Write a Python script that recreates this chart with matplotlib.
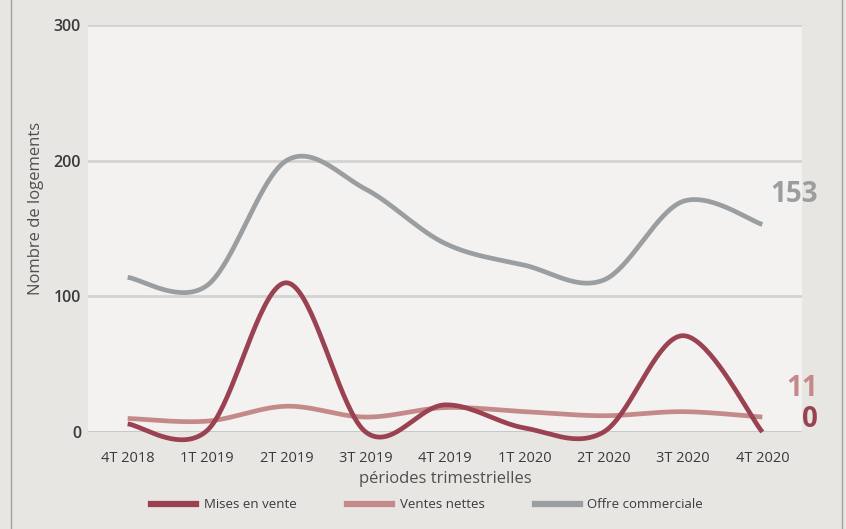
import matplotlib.pyplot as plt
from matplotlib.lines import Line2D
import numpy as np

# Data
periodes = ['4T 2018', '1T 2019', '2T 2019', '3T 2019', '4T 2019',
            '1T 2020', '2T 2020', '3T 2020', '4T 2020']
mises_en_vente = [6, 1, 110, 0, 20, 3, 0, 71, 0]
ventes_nettes = [10, 8, 19, 11, 18, 15, 12, 15, 11]
offre_commerciale = [114, 108, 200, 179, 139, 123, 112, 170, 153]

series = [
    ('Mises en vente', mises_en_vente, '#9b4252'),
    ('Ventes nettes', ventes_nettes, '#c48a8a'),
    ('Offre commerciale', offre_commerciale, '#9b9ea0'),
]


def smooth(y, n=40):
    # Catmull-Rom curve through each point (same look as a smoothed line)
    y = np.asarray(y, dtype=float)
    x = np.arange(len(y), dtype=float)
    px = np.concatenate([[x[0]], x, [x[-1]]])
    py = np.concatenate([[y[0]], y, [y[-1]]])
    xs, ys = [], []
    t = np.linspace(0, 1, n)
    for i in range(1, len(px) - 2):
        for p, out in ((px, xs), (py, ys)):
            p0, p1, p2, p3 = p[i - 1], p[i], p[i + 1], p[i + 2]
            m1 = (p2 - p0) / 2
            m2 = (p3 - p1) / 2
            h00 = 2 * t**3 - 3 * t**2 + 1
            h10 = t**3 - 2 * t**2 + t
            h01 = -2 * t**3 + 3 * t**2
            h11 = t**3 - t**2
            out.extend(h00 * p1 + h10 * m1 + h01 * p2 + h11 * m2)
    return np.array(xs), np.array(ys)


plt.rcParams['font.family'] = ['Open Sans', 'DejaVu Sans']

fig = plt.figure(figsize=(8.46, 5.29), dpi=100, facecolor='#e7e6e3')
ax = fig.add_axes([88 / 846, 1 - 432 / 529, 714 / 846, 407 / 529])
ax.set_facecolor('#f3f2f0')

# frame borders of the panel
fig.add_artist(Line2D([10.5 / 846, 10.5 / 846], [0, 1], color='#a0a0a0', lw=1))
fig.add_artist(Line2D([842 / 846, 842 / 846], [0, 1], color='#a0a0a0', lw=1))

ax.set_xlim(-0.5, len(periodes) - 0.5)
ax.set_ylim(0, 300)
ax.set_yticks([0, 100, 200, 300])
ax.yaxis.grid(True, color='#d3d4d2', lw=2)
ax.set_axisbelow(True)
ax.axhline(0, color='#c6c8c8', lw=2, zorder=1)
for s in ax.spines.values():
    s.set_visible(False)

ax.set_xticks(range(len(periodes)))
ax.set_xticklabels(periodes)
ax.tick_params(axis='both', length=0, colors='#3a3a3a')
ax.tick_params(axis='y', labelsize=11.5, pad=5)
ax.tick_params(axis='x', labelsize=10.5, pad=14)
for lbl in ax.get_yticklabels():
    lbl.set_fontweight('semibold')

for name, vals, col in series[::-1]:
    xs, ys = smooth(vals)
    ax.plot(xs, ys, color=col, lw=3.4, solid_capstyle='butt', clip_on=False, label=name)

ax.set_ylabel('Nombre de logements', fontsize=12, color='#505050')
ax.yaxis.set_label_coords(-44 / 714, 0.55)
ax.set_xlabel('périodes trimestrielles', fontsize=12, color='#505050', labelpad=3)

# last values next to the lines
last_x = len(periodes) - 1
ax.text(last_x + 0.7, 175, f'{offre_commerciale[-1]}', color='#9b9ea0',
        fontsize=20, fontweight='bold', va='center', ha='right')
ax.text(last_x + 0.7, 32, f'{ventes_nettes[-1]}', color='#c48a8a',
        fontsize=20, fontweight='bold', va='center', ha='right')
ax.text(last_x + 0.7, 9, f'{mises_en_vente[-1]}', color='#9b4252',
        fontsize=20, fontweight='bold', va='center', ha='right')

handles = [Line2D([0], [0], color=c, lw=4.5) for _, _, c in series]
fig.legend(handles, [n for n, _, _ in series], loc='center', ncol=3,
           bbox_to_anchor=(0.505, 1 - 505 / 529), frameon=False, fontsize=9.5,
           handlelength=3.4, columnspacing=3.8, handletextpad=0.6,
           labelcolor='#3a3a3a')

fig.savefig('out.png', dpi=100, facecolor=fig.get_facecolor())
